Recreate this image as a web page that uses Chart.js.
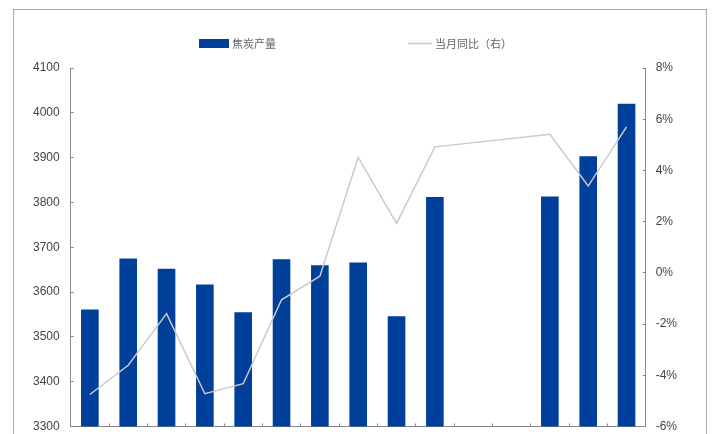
<!DOCTYPE html>
<html>
<head>
<meta charset="utf-8">
<script src="https://cdn.jsdelivr.net/npm/chart.js@4"></script>
<style>
  html, body { margin: 0; padding: 0; background: #fff; overflow: hidden; }
  #wrap { width: 720px; height: 434px; }
</style>
</head>
<body>
<div id="wrap"><canvas id="cokeChart" width="720" height="434"></canvas></div>
<script>
// months (Jan/Feb are not reported separately, so they stay empty)
const months = ["3月", "4月", "5月", "6月", "7月", "8月", "9月", "10月", "11月", "12月", "1月", "2月", "3月", "4月", "5月"];
const cokeOutput = [3561, 3675, 3652, 3617, 3555, 3673, 3660, 3666, 3546, 3812, null, null, 3813, 3903, 4020];
const yoyChange = [-4.75, -3.61, -1.59, -4.72, -4.33, -1.05, -0.13, 4.51, 1.93, 4.92, null, null, 5.41, 3.39, 5.7];
const leftTicks = [3300, 4100, 100];
const rightTicks = [-6, 8, 2];

const tickFont = { family: "'Liberation Sans Narrow', 'Liberation Sans', sans-serif", size: 12 };

// grey frame round the whole picture
const framePlugin = {
  id: "frame",
  beforeDraw(chart) {
    const ctx = chart.ctx;
    ctx.save();
    ctx.strokeStyle = "#a8a8a8";
    ctx.lineWidth = 1;
    ctx.strokeRect(13.5, 9.5, 693, 500);
    ctx.restore();
  },
};

// legend drawn by hand so the two items sit where the original has them
const legendPlugin = {
  id: "handLegend",
  afterDraw(chart) {
    const ctx = chart.ctx;
    const [bars, line] = chart.data.datasets;
    ctx.save();
    ctx.font = "11px 'Noto Sans CJK SC', sans-serif";
    ctx.fillStyle = "#666";
    ctx.textBaseline = "middle";

    ctx.fillStyle = bars.backgroundColor;
    ctx.fillRect(199, 39, 30, 9);
    ctx.fillStyle = "#666";
    ctx.fillText(bars.label, 232, 44);

    ctx.strokeStyle = line.borderColor;
    ctx.lineWidth = line.borderWidth;
    ctx.beginPath();
    ctx.moveTo(408, 43.5);
    ctx.lineTo(432, 43.5);
    ctx.stroke();
    ctx.fillText(line.label, 435, 44);
    ctx.restore();
  },
};

// keep end labels from pushing the plot area in
const noEndPadding = (width) => (scale) => {
  scale.width = width;
  scale.paddingTop = 0;
  scale.paddingBottom = 0;
};

new Chart(document.getElementById("cokeChart"), {
  type: "bar",
  data: {
    labels: months,
    datasets: [
      {
        label: "焦炭产量",
        data: cokeOutput,
        backgroundColor: "#00409a",
        borderWidth: 0,
        yAxisID: "y",
        order: 2,
        barPercentage: 0.46,
        categoryPercentage: 1,
      },
      {
        type: "line",
        label: "当月同比（右）",
        data: yoyChange,
        borderColor: "#cacaca",
        backgroundColor: "#cacaca",
        borderWidth: 1.5,
        pointRadius: 0,
        tension: 0,
        spanGaps: true,
        yAxisID: "y1",
        order: 1,
      },
    ],
  },
  options: {
    responsive: false,
    animation: false,
    devicePixelRatio: 1,
    layout: { padding: { left: 12, right: 34.3, top: 68, bottom: 7.5 } },
    plugins: {
      tooltip: { enabled: false },
      legend: { display: false },
    },
    scales: {
      x: {
        ticks: { display: false },
        grid: { offset: true, drawOnChartArea: false, tickLength: -3, color: "#888" },
        border: { color: "#888" },
        afterFit: (scale) => { scale.height = 0; },
      },
      y: {
        position: "left",
        min: leftTicks[0],
        max: leftTicks[1],
        ticks: {
          stepSize: leftTicks[2],
          color: "#444",
          font: tickFont,
          padding: 14,
          callback: (v) => String(v),
        },
        grid: { drawOnChartArea: false, tickLength: -3, color: "#888" },
        border: { color: "#888" },
        afterFit: noEndPadding(58.7),
      },
      y1: {
        position: "right",
        min: rightTicks[0],
        max: rightTicks[1],
        ticks: {
          stepSize: rightTicks[2],
          color: "#444",
          font: tickFont,
          padding: 13,
          callback: (v) => v + "%",
        },
        grid: { drawOnChartArea: false, tickLength: -3, color: "#888" },
        border: { color: "#888" },
        afterFit: noEndPadding(40),
      },
    },
  },
  plugins: [framePlugin, legendPlugin],
});
</script>
</body>
</html>
